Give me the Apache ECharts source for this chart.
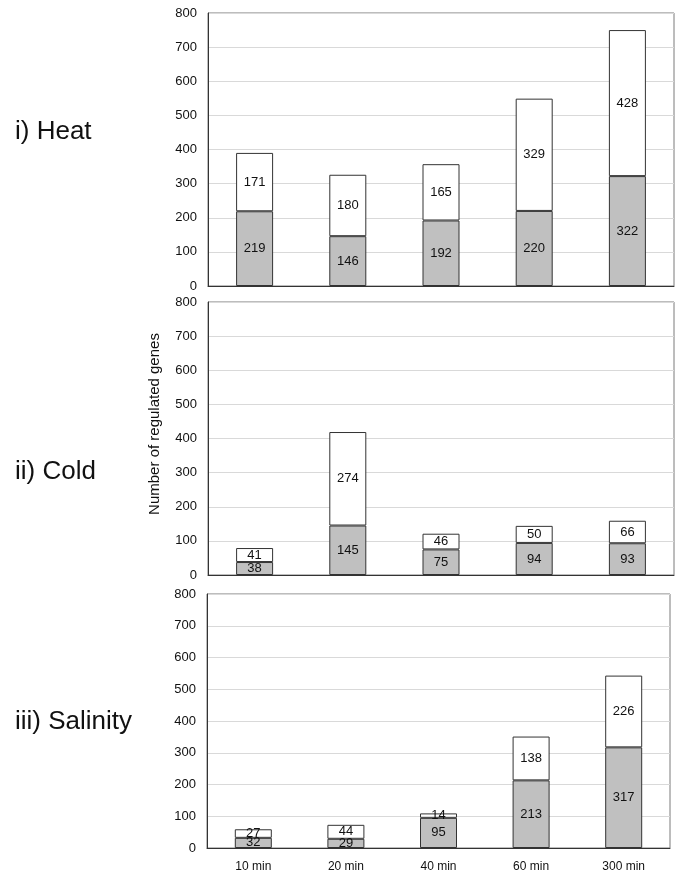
<!DOCTYPE html>
<html><head><meta charset="utf-8">
<script src="https://cdn.jsdelivr.net/npm/echarts@6/dist/echarts.min.js"></script>
<style>html,body{margin:0;padding:0;background:#fff}#c{width:685px;height:884px}</style>
</head><body><div id="c"></div>
<script>
const categories = ['10 min','20 min','40 min','60 min','300 min'];
const panelTitles = ['i) Heat','ii) Cold','iii) Salinity'];
const yAxisTitle = 'Number of regulated genes';
const heatLower = [219,146,192,220,322];
const heatUpper = [171,180,165,329,428];
const coldLower = [38,145,75,94,93];
const coldUpper = [41,274,46,50,66];
const salLower = [32,29,95,213,317];
const salUpper = [27,44,14,138,226];
const yTicks = [0,100,200,300,400,500,600,700,800];

const panels = [[heatLower,heatUpper],[coldLower,coldUpper],[salLower,salUpper]];
const grids = [
  {left:208, top:13, width:466, height:273},
  {left:208, top:302, width:466, height:273},
  {left:207, top:594, width:463, height:254}
];
const font = 'Liberation Sans, Arial, sans-serif';
const chart = echarts.init(document.getElementById('c'));
const xAxis = [], yAxis = [], series = [];
grids.forEach((g,i)=>{
  g.show = true; g.borderColor = '#7a7a7a'; g.borderWidth = 1; g.backgroundColor='#fff';
  xAxis.push({type:'category', gridIndex:i, data:categories,
    axisLine:{lineStyle:{color:'#333', width:1}}, axisTick:{show:false},
    axisLabel:{show:i===2, color:'#111', fontSize:12, fontFamily:font, margin:13}});
  yAxis.push({type:'value', gridIndex:i, min:yTicks[0], max:yTicks[yTicks.length-1], interval:yTicks[1]-yTicks[0],
    axisLine:{show:true, lineStyle:{color:'#333', width:1}}, axisTick:{show:false},
    axisLabel:{color:'#111', fontSize:13, fontFamily:font, margin:11},
    splitLine:{lineStyle:{color:'#d9d9d9', width:1}}});
  const [lo, up] = panels[i];
  const lbl = {show:true, position:'inside', color:'#111', fontSize:13, fontFamily:font};
  series.push({type:'bar', xAxisIndex:i, yAxisIndex:i, stack:'s'+i, data:lo, barWidth:37,
    itemStyle:{color:'#c0c0c0', borderColor:'#333', borderWidth:1}, label:lbl});
  series.push({type:'bar', xAxisIndex:i, yAxisIndex:i, stack:'s'+i, data:up, barWidth:37,
    itemStyle:{color:'#fff', borderColor:'#333', borderWidth:1}, label:lbl});
});
const titleCenters = [131.5, 472, 721.5];
const graphic = panelTitles.map((t,i)=>({type:'text', left:15, top:titleCenters[i]-15,
  style:{text:t, fontSize:26, fontFamily:font, fill:'#111', lineHeight:30}}));
graphic.push({type:'text', x:155, y:424, rotation:Math.PI/2,
  style:{text:yAxisTitle, fontSize:15, fontFamily:font, fill:'#111', align:'center', verticalAlign:'middle'}});
chart.setOption({
  animation:false,
  grid: grids, xAxis, yAxis, series, graphic
});
</script></body></html>
